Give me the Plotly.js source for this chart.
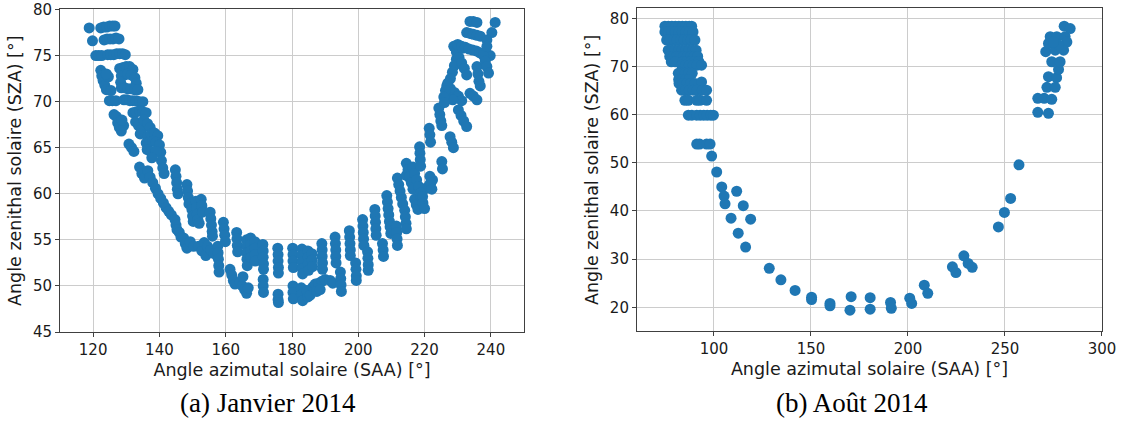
<!DOCTYPE html>
<html>
<head>
<meta charset="utf-8">
<script src="https://cdn.plot.ly/plotly-3.0.1.min.js"></script>
<style>html,body{margin:0;padding:0;background:#fff;}#chart{width:1124px;height:421px;}</style>
</head>
<body>
<div id="chart"></div>
<script>
// ---- Janvier 2014 : angle azimutal (SAA) et angle zénithal (SZA) ----
const janSAA = [
  118.8, 119.8,
  122.3,123.2,124.1,125.0,125.9,126.6,
  123.3,124.2,125.1,126.0,126.9,127.8,
  120.8,121.7,122.6,124.4,125.3,126.2,127.1,128.0,128.9,129.7,
  122.3,122.6,123.0,123.5,124.0,124.6,125.4,124.0,
  128.0,129.0,130.0,131.0,132.0,128.5,129.5,130.5,131.5,132.6,128.3,133.0,
  128.5,129.5,130.5,131.5,132.5,133.5,
  124.9,125.8,126.9,129.3,130.2,131.1,132.0,133.0,134.0,135.0,
  126.3,127.0,127.4,127.9,128.5,129.2,128.7,
  132.0,133.0,134.0,135.0,136.0,132.8,133.7,134.6,135.3,136.4,137.2,134.2,
  130.8,131.6,132.3,
  136.5,137.5,138.5,139.5,136.0,137.0,138.0,139.0,140.0,136.3,137.3,140.4,139.0,137.7,140.6,141.0,141.4,
  134.0,134.7,135.5,
  136.5,137.2,138.0,138.8,139.6,140.4,141.2,142.0,142.8,143.6,
  144.8,145.0,145.2,145.4,145.6,
  148.3,148.5,148.7,148.9,
  149.6,149.8,150.0,150.2,151.0,151.2,151.4,151.6,152.6,152.8,153.0,152.0,
  144.7,145.0,145.3,146.0,146.5,
  147.3,147.8,148.3,149.3,150.3,151.8,152.8,154.0,
  155.3,155.5,155.7,155.9,156.0,
  153.5,154.5,155.5,156.5,
  157.6,157.7,157.8,157.9,158.0,
  159.3,159.5,159.7,159.9,
  161.3,161.8,162.3,162.8,
  163.3,163.4,163.5,163.6,
  164.3,165.0,165.7,166.3,165.2,166.8,
  166.3,166.3,166.4,166.4,166.5,167.5,167.5,167.6,167.6,168.8,168.8,168.9,168.9,
  171.2,171.3,171.3,171.4,171.4,
  171.3,171.3,171.4,
  175.7,175.8,175.8,175.9,175.9,
  175.8,175.8,175.9,
  180.2,180.3,180.3,180.4,
  180.3,180.3,180.4,
  183.0,183.0,183.1,183.1,183.2,184.8,184.9,184.9,185.0,186.0,186.1,186.2,
  182.8,183.0,183.2,184.5,184.8,185.5,186.3,
  187.0,188.0,189.0,190.0,187.5,188.5,191.5,192.3,
  189.0,189.1,189.1,189.2,189.2,
  193.0,193.1,193.2,193.2,193.3,
  194.6,194.7,194.8,194.9,
  197.3,197.4,197.5,197.6,197.6,
  199.2,199.3,199.4,199.4,
  201.3,201.4,201.5,201.6,201.7,
  202.8,202.9,203.0,203.0,
  205.0,205.1,205.2,205.3,205.4,
  207.3,207.5,207.6,
  208.6,208.8,209.0,209.2,209.4,209.6,209.8,
  211.5,211.6,211.7,211.8,
  211.8,212.2,212.6,213.0,213.4,
  214.0,214.2,214.4,214.5,
  217.0,217.5,218.0,219.0,219.5,220.0,
  214.5,215.5,216.5,217.5,218.5,219.5,220.5,221.5,222.4,
  214.5,215.0,215.5,216.0,216.5,
  216.5,217.0,217.6,218.2,218.8,219.4,
  218.5,218.6,218.7,218.8,
  221.6,221.9,222.2,
  225.2,225.4,
  221.4,221.6,221.8,
  224.3,224.6,224.9,225.2,
  227.7,228.2,228.7,
  226.7,227.8,229.0,230.2,231.2,227.0,228.5,
  230.2,231.0,231.8,232.7,
  229.6,229.0,228.4,227.8,227.0,226.3,225.8,226.0,
  228.8,229.6,230.4,231.2,232.0,232.7,230.0,231.5,
  233.7,234.7,235.8,
  235.8,236.1,236.4,236.8,
  233.7,234.7,235.8,
  232.7,233.7,234.7,235.8,236.8,
  231.2,232.3,233.4,234.5,235.6,236.7,237.8,238.8,239.8,
  237.8,238.3,238.8,239.3,
  241.3,240.3,238.8,238.8
];
const janSZA = [
  78.0, 76.6,
  78.0,78.1,78.1,78.2,78.2,78.2,
  76.7,76.8,76.8,76.8,76.9,76.8,
  75.0,75.0,75.0,75.1,75.1,75.1,75.2,75.2,75.2,75.1,
  73.4,72.8,72.3,71.8,71.3,72.7,71.2,73.0,
  73.6,73.7,73.8,73.8,73.5,72.8,72.9,73.0,72.9,72.6,72.1,72.0,
  71.5,71.5,71.4,71.4,71.3,71.3,
  70.1,70.1,70.1,70.2,70.2,70.1,70.1,70.1,70.0,70.0,
  68.6,68.4,67.7,67.2,66.8,67.4,68.0,
  68.8,68.9,69.0,68.9,68.8,67.8,67.4,67.0,68.0,67.6,67.2,66.5,
  65.4,65.0,64.6,
  66.2,66.5,66.6,66.3,65.5,65.6,65.7,65.6,65.3,64.8,64.6,64.5,64.6,63.9,63.6,62.8,62.2,
  62.9,62.2,61.7,
  62.5,61.8,61.2,60.6,60.0,59.5,59.0,58.5,58.1,57.7,
  62.6,61.9,61.2,60.5,60.0,
  61.0,60.3,59.6,58.9,
  59.0,58.3,57.6,57.0,59.2,58.5,57.8,57.2,59.4,58.7,58.0,56.8,
  57.2,56.6,56.1,55.8,55.3,
  55.2,54.6,54.1,54.8,54.3,54.3,53.8,53.3,
  58.0,57.3,56.6,55.9,55.4,
  54.7,54.3,53.9,53.5,
  54.3,53.6,52.9,52.2,51.5,
  56.9,56.2,55.5,54.8,
  51.8,51.2,50.6,50.2,
  55.8,55.1,54.4,53.7,
  50.4,50.0,49.6,49.2,51.0,49.8,
  55.0,54.3,53.6,52.9,52.2,55.2,54.5,53.8,53.1,54.8,54.1,53.4,52.7,
  54.5,53.8,53.1,52.4,51.8,
  50.7,50.0,49.3,
  54.1,53.4,52.7,52.0,51.4,
  49.1,48.5,48.2,
  54.1,53.4,52.7,52.0,
  50.0,49.3,48.6,
  54.0,53.3,52.6,51.9,51.3,53.8,53.1,52.4,51.7,53.5,52.8,52.1,
  49.8,49.1,48.4,49.5,48.8,49.0,49.9,
  50.2,50.3,50.5,50.7,49.4,49.6,50.6,50.3,
  54.6,53.9,53.2,52.5,51.8,
  55.3,54.6,53.9,53.2,52.5,
  51.5,50.8,50.1,49.4,
  56.0,55.3,54.6,53.9,53.3,
  52.5,51.8,51.1,50.6,
  57.2,56.5,55.8,55.1,54.4,
  53.7,53.0,52.3,51.7,
  58.3,57.6,56.9,56.2,55.5,
  54.6,53.9,53.2,
  59.8,59.1,58.4,57.7,57.0,56.4,55.7,
  56.5,55.8,55.1,54.4,
  61.7,61.0,60.3,59.6,58.9,
  58.2,57.5,56.8,56.2,
  59.4,58.8,58.3,59.6,59.0,58.4,
  62.0,61.7,61.4,61.0,60.7,60.4,60.6,61.0,61.5,
  63.3,62.6,61.9,61.2,60.5,
  62.9,62.2,61.5,60.8,60.1,59.7,
  65.1,64.4,63.7,63.0,
  61.9,61.2,60.5,
  63.5,62.7,
  67.1,66.4,65.6,
  69.3,68.6,67.9,67.4,
  66.2,65.6,65.0,
  71.7,71.4,71.0,70.6,70.1,70.6,70.2,
  69.1,68.5,67.9,67.3,
  74.6,73.9,73.2,72.5,72.0,71.2,70.5,69.9,
  76.0,75.4,74.8,74.2,73.6,72.9,76.2,75.8,
  70.9,70.6,70.2,
  73.8,73.0,72.2,71.7,
  78.7,78.7,78.6,
  77.5,77.4,77.3,77.2,77.1,
  76.0,75.9,75.7,75.6,75.5,75.3,75.2,75.1,75.0,
  75.0,74.4,73.8,73.1,
  78.6,77.5,76.7,76.0
];

// ---- Août 2014 ----
const aoutSAA = [
  74.7,76.5,78.3,80.1,81.9,83.7,85.5,87.3,88.5,
  74.7,76.5,78.3,80.1,81.9,83.7,85.5,87.3,89.2,
  75.6,77.4,79.2,81.0,82.8,84.6,86.4,88.2,90.2,
  76.4,78.2,80.0,81.8,83.6,85.4,87.2,89.0,90.8,
  77.2,79.0,80.8,82.6,84.4,86.2,88.0,89.8,91.6,
  78.0,80.0,84.0,86.0,88.0,90.0,92.2,
  83.3,85.3,87.3,89.3,91.3,93.6,
  81.6,83.4,85.2,87.0,88.8,
  81.8,83.6,85.4,87.2,
  82.0,84.0,86.0,88.0,90.2,93.6,
  83.3,85.3,87.3,89.3,91.3,94.0,96.2,
  85.0,86.8,91.1,92.8,96.2,
  86.8,88.6,91.1,92.9,94.7,96.5,98.3,99.7,
  91.1,92.6,96.2,98.0,
  98.8,101.4,104.0,105.2,111.7,105.7,108.8,112.5,115.1,116.3,118.9,
  128.5,134.5,141.8,150.3,150.3,159.8,159.8,170.1,170.7,180.5,180.5,
  191.0,191.4,200.9,201.9,208.4,210.2,222.9,224.7,228.8,231.0,233.1,
  246.6,249.7,252.9,257.2,
  266.9,272.4,266.9,270.2,274.1,271.6,275.9,272.4,276.6,277.6,274.1,278.4,
  271.0,272.4,273.3,276.7,281.0,281.9,280.2,275.9,277.6,275.0,280.5,283.6
];
const aoutSZA = [
  78.4,78.4,78.4,78.4,78.4,78.4,78.4,78.4,78.4,
  77.2,77.2,77.2,77.2,77.2,77.2,77.2,77.2,77.2,
  75.5,75.5,75.5,75.5,75.5,75.5,75.5,75.5,75.5,
  73.4,73.4,73.4,73.4,73.4,73.4,73.4,73.4,73.4,
  72.1,72.1,72.1,72.1,72.1,72.1,72.1,72.1,72.1,
  71.0,71.0,71.0,71.0,71.0,71.0,71.0,
  70.3,70.3,70.3,70.3,70.3,70.3,
  68.6,68.6,68.6,68.6,68.6,
  67.3,67.3,67.3,67.3,
  66.5,66.5,66.5,66.5,66.5,66.8,
  65.1,65.1,65.1,65.1,65.1,65.1,65.1,
  63.0,63.0,63.0,63.0,63.0,
  59.9,59.9,59.9,59.9,59.9,59.9,59.9,59.9,
  53.9,53.9,53.9,53.9,
  51.4,48.1,45.0,43.1,44.1,41.5,38.5,35.4,41.1,32.5,38.3,
  28.1,25.7,23.5,22.1,21.6,20.8,20.3,19.4,22.2,22.0,19.6,
  21.0,19.8,21.9,20.8,24.6,22.9,28.4,27.2,30.7,29.1,28.3,
  36.7,39.7,42.6,49.6,
  60.5,60.3,63.4,63.4,63.2,65.7,65.7,67.9,67.7,69.4,71.0,71.0,
  73.1,74.8,76.2,76.2,76.2,75.1,73.4,73.4,74.5,75.1,78.4,77.9
];

// ---- Textes ----
const xTitle = 'Angle azimutal solaire (SAA) [°]';
const yTitle = 'Angle zenithal solaire (SZA) [°]';
const captions = ['(a) Janvier 2014', '(b) Août 2014'];

const blue = '#1f77b4';
const marker = {color: blue, size: 11, line: {width: 0}};

const traces = [
  {type: 'scatter', mode: 'markers', x: janSAA, y: janSZA, xaxis: 'x', yaxis: 'y', marker: marker, hoverinfo: 'x+y'},
  {type: 'scatter', mode: 'markers', x: aoutSAA, y: aoutSZA, xaxis: 'x2', yaxis: 'y2', marker: marker, hoverinfo: 'x+y'}
];

const common = {
  showgrid: true, gridcolor: '#cccccc', gridwidth: 1, zeroline: false,
  showline: true, mirror: true, linecolor: '#404040', linewidth: 1,
  ticks: 'outside', ticklen: 4, tickwidth: 1, tickcolor: '#404040',
  tickfont: {family: 'DejaVu Sans', size: 15, color: '#1a1a1a'},
  automargin: false, fixedrange: true
};
const tFont = {family: 'DejaVu Sans', size: 17.5, color: '#1a1a1a'};

const layout = {
  width: 1124, height: 421,
  margin: {l: 60, r: 22, t: 8, b: 89},
  paper_bgcolor: '#ffffff', plot_bgcolor: '#ffffff',
  showlegend: false,
  font: {family: 'DejaVu Sans', color: '#1a1a1a'},
  xaxis: Object.assign({}, common, {domain: [0, 0.4453], range: [110, 250], dtick: 20, tick0: 0, anchor: 'y',
    title: {text: xTitle, font: tFont, standoff: 5}}),
  yaxis: Object.assign({}, common, {domain: [0, 0.9954], range: [45, 80], dtick: 5, tick0: 0, anchor: 'x',
    title: {text: yTitle, font: tFont, standoff: 6}}),
  xaxis2: Object.assign({}, common, {domain: [0.5537, 1], range: [60.3, 300], dtick: 50, tick0: 0, anchor: 'y2',
    title: {text: xTitle, font: tFont, standoff: 5}}),
  yaxis2: Object.assign({}, common, {domain: [0.002, 0.999], range: [15, 82.1], dtick: 10, tick0: 0, anchor: 'x2',
    title: {text: yTitle, font: tFont, standoff: 6}}),
  annotations: [
    {text: captions[0], xref: 'paper', yref: 'paper', x: 0.1996, y: -0.219, xanchor: 'center', yanchor: 'middle',
     showarrow: false, font: {family: 'Liberation Serif', size: 27, color: '#000'}},
    {text: captions[1], xref: 'paper', yref: 'paper', x: 0.760, y: -0.219, xanchor: 'center', yanchor: 'middle',
     showarrow: false, font: {family: 'Liberation Serif', size: 27, color: '#000'}}
  ]
};

Plotly.newPlot('chart', traces, layout, {displayModeBar: false, staticPlot: true});
</script>
</body>
</html>
